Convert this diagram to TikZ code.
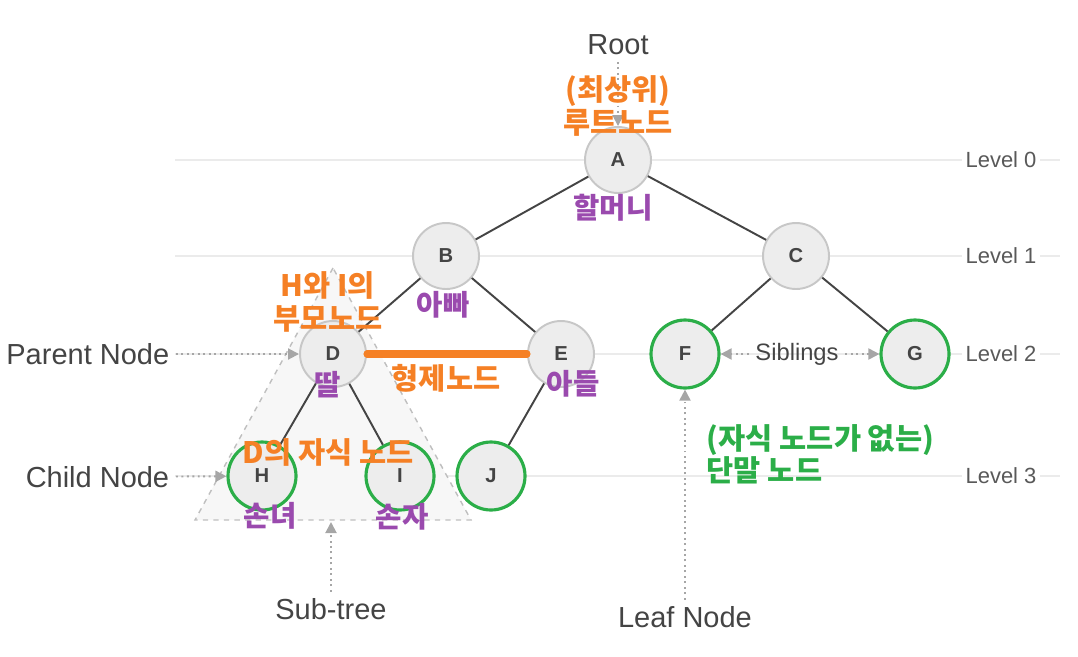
\documentclass[tikz,border=0pt]{standalone}
\usepackage{fontspec}
\setmainfont{Liberation Sans}
\newfontfamily\kr{Noto Sans CJK KR}
\usetikzlibrary{arrows.meta}
\definecolor{corange}{HTML}{F58025}
\definecolor{cpurple}{HTML}{9A4AAE}
\definecolor{cgreen}{HTML}{2BAE48}
\definecolor{cgrey}{HTML}{444444}
\definecolor{cline}{HTML}{EBEBEB}
\tikzset{
  every picture/.style={line width=1.1pt},
  tnode/.style={circle, draw=#1, fill=black!7, minimum size=1.32cm, inner sep=0pt,
    font=\fontsize{11.5}{13}\selectfont\bfseries, text=cgrey},
  tnode/.default=black!22,
  leaf/.style={tnode=cgreen, line width=1.8pt, minimum size=1.36cm},
  edge/.style={draw=cgrey},
  pointer/.style={-{Triangle[length=2.2mm, width=2.2mm]}, draw=black!35, dotted, line width=1.1pt},
  big/.style={font=\fontsize{16.5}{19}\selectfont, text=cgrey},
  lvl/.style={font=\fontsize{12.5}{15}\selectfont, text=black!65, fill=white, inner sep=2pt},
  orangetxt/.style={font=\kr\fontsize{16.8}{18.3}\selectfont\bfseries, text=corange, align=center},
  purpletxt/.style={font=\kr\fontsize{16.3}{18}\selectfont\bfseries, text=cpurple},
  greentxt/.style={font=\kr\fontsize{16.8}{18.3}\selectfont\bfseries, text=cgreen, align=left},
}

\begin{document}
\begin{tikzpicture}[x=0.02cm, y=-0.02cm]
  \useasboundingbox (0,0) rectangle (1078,656);
  % level guide lines
  \foreach \y in {160,256,354,476} \draw[cline, line width=0.8pt] (175,\y) -- (1060,\y);
  % sub-tree triangle
  \draw[fill=black!3, draw=black!25, dashed, line width=0.8pt] (333,268) -- (195,520) -- (471,520) -- cycle;
  \coordinate (sbase) at (331,522);
  % tree
  \node[tnode] (A) at (618,160) {A};
  \node[tnode] (B) at (446,256) {B};
  \node[tnode] (C) at (796,256) {C};
  \node[tnode] (D) at (333,354) {D};
  \node[tnode] (E) at (561,354) {E};
  \node[leaf] (F) at (685,354) {F};
  \node[leaf] (G) at (915,354) {G};
  \node[leaf] (H) at (262,476) {H};
  \node[leaf] (I) at (400,476) {I};
  \node[leaf] (J) at (491,476) {J};
  \foreach \a/\b in {A/B, A/C, B/D, B/E, C/F, C/G, D/H, D/I, E/J} \draw[edge] (\a) -- (\b);
  % siblings
  \draw[corange, line width=4pt, line cap=round] (D.east) -- (E.west);
  % level labels
  \node[lvl] (l0) at (1001,160) {Level 0};
  \node[lvl] (l1) at (1001,256) {Level 1};
  \node[lvl] (l2) at (1001,354) {Level 2};
  \node[lvl] (l3) at (1001,476) {Level 3};
  % english labels
  \node[big] (root) at (618,45) {Root};
  \node[big, anchor=east] (parent) at (176,354) {Parent Node};
  \node[big, anchor=east] (child) at (176,477) {Child Node};
  \node[big] (sub) at (331,609) {Sub-tree};
  \node[big] (leafn) at (685,617) {Leaf Node};
  \node[font=\fontsize{13.5}{16}\selectfont, text=cgrey] (sib) at (797,354) {Siblings};
  \draw[pointer] (root) -- (A);
  \draw[pointer] (parent) -- (D);
  \draw[pointer] (child) -- (H);
  \draw[pointer] (sub) -- (sbase);
  \draw[pointer] (leafn) -- (F);
  \draw[pointer] (sib) -- (F);
  \draw[pointer] (sib) -- (G);
  % korean notes
  \node[orangetxt] (rootkr) at (618,106) {(최상위)\\루트노드};
  \node[orangetxt] (parentkr) at (328,302) {H와 I의\\부모노드};
  \node[orangetxt] (sibkr) at (446,378) {형제노드};
  \node[orangetxt] (childkr) at (328,452) {D의 자식 노드};
  \node[purpletxt] (pA) at (613,208) {할머니};
  \node[purpletxt] (pB) at (443,305) {아빠};
  \node[purpletxt] (pD) at (328,385) {딸};
  \node[purpletxt] (pE) at (573,384) {아들};
  \node[purpletxt] (pH) at (270,516) {손녀};
  \node[purpletxt] (pI) at (402,517) {손자};
  \node[greentxt, anchor=west] (leafkr) at (700,454) {(자식 노드가 없는)\\단말 노드};
\end{tikzpicture}
\end{document}
